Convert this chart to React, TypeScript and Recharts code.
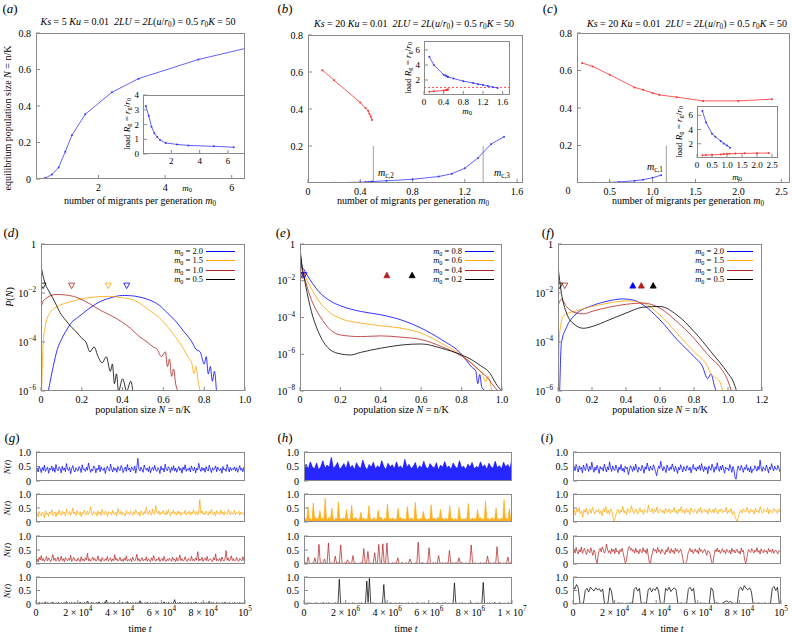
import React from "react";
import { ComposedChart, Line, Area, Scatter, XAxis, YAxis, ReferenceLine } from "recharts";

const FONT = "'Liberation Serif', 'Times New Roman', 'DejaVu Serif', serif";
const AXIS = "#8a8a8a";
const BLUE = "#0000ff";
const ORANGE = "#ffa500";
const BROWN = "#b22222";
const BLACK = "#000000";
const LBLUE = "#3a3aff";
const LRED = "#ff3030";

// ---- row 1: equilibrium N and load vs m0
const titleKs = [5, 20, 20];

const aM0 = [0.2, 0.4, 0.6, 0.8, 1.0, 1.2, 1.6, 2.4, 3.2, 5.0, 6.4];
const aN = [0.0, 0.005, 0.025, 0.063, 0.15, 0.24, 0.355, 0.475, 0.55, 0.655, 0.715];
const aLoad = [3.25, 2.6, 1.85, 1.4, 1.15, 0.95, 0.75, 0.65, 0.58, 0.52, 0.46];

const bM0High = [0.11, 0.2, 0.4, 0.44, 0.46, 0.47, 0.48, 0.49];
const bNHigh = [0.61, 0.555, 0.435, 0.405, 0.39, 0.375, 0.36, 0.34];
const bLoadHigh = [0.45, 0.5, 0.6, 0.64, 0.67, 0.7, 0.72, 0.75];
const bM0Low = [0.11, 0.2, 0.4, 0.44, 0.46, 0.48, 0.49, 0.6, 0.8, 1.0, 1.1, 1.2, 1.3, 1.4, 1.5];
const bNLow = [0.0, 0.002, 0.004, 0.005, 0.006, 0.007, 0.008, 0.012, 0.02, 0.035, 0.05, 0.08, 0.135, 0.21, 0.25];
const bLoadLow = [5.1, 4.0, 2.7, 2.6, 2.5, 2.45, 2.4, 2.2, 1.85, 1.6, 1.45, 1.35, 1.2, 1.05, 0.95];
const bCrit = [0.5, 1.34];

const cM0High = [0.18, 0.3, 0.5, 0.79, 0.89, 1.0, 1.08, 1.28, 1.59, 2.0, 2.39];
const cNHigh = [0.64, 0.622, 0.578, 0.51, 0.497, 0.48, 0.47, 0.458, 0.438, 0.438, 0.447];
const cLoadHigh = [0.4, 0.42, 0.45, 0.5, 0.55, 0.58, 0.6, 0.62, 0.65, 0.68, 0.7];
const cM0Low = [0.18, 0.3, 0.5, 0.61, 0.79, 0.89, 1.0, 1.1];
const cNLow = [0.0, 0.001, 0.003, 0.006, 0.012, 0.018, 0.028, 0.042];
const cLoadLow = [6.6, 5.0, 3.4, 3.0, 2.4, 2.05, 1.75, 1.45];
const cCrit = 1.16;

// ---- row 2: P(N), values as log10
const dLegend = ["2.0", "1.5", "1.0", "0.5"];
const eLegend = ["0.8", "0.6", "0.4", "0.2"];
const curveColors = [BLUE, ORANGE, BROWN, BLACK];

const dX = [
  [0.036, 0.05, 0.06, 0.08, 0.1, 0.126, 0.15, 0.18, 0.21, 0.25, 0.29, 0.34, 0.4, 0.44, 0.48, 0.53, 0.58, 0.62, 0.66, 0.7, 0.74, 0.76, 0.78, 0.8, 0.81, 0.82, 0.83, 0.84, 0.85, 0.86],
  [0.003, 0.011, 0.02, 0.044, 0.08, 0.126, 0.17, 0.21, 0.27, 0.33, 0.39, 0.45, 0.49, 0.53, 0.58, 0.62, 0.66, 0.7, 0.72, 0.74, 0.75, 0.76, 0.77, 0.78],
  [0, 0.01, 0.028, 0.05, 0.077, 0.12, 0.16, 0.22, 0.29, 0.35, 0.4, 0.44, 0.485, 0.52, 0.55, 0.57, 0.59, 0.61, 0.62, 0.63, 0.64, 0.65, 0.66, 0.67],
  [0, 0.01, 0.02, 0.044, 0.07, 0.093, 0.12, 0.15, 0.175, 0.2, 0.22, 0.24, 0.26, 0.28, 0.3, 0.32, 0.34, 0.35, 0.36, 0.37, 0.38, 0.4, 0.42, 0.44, 0.45],
];
const dLog = [
  [-6, -5.4, -5.0, -4.3, -3.9, -3.5, -3.2, -3.0, -2.8, -2.55, -2.35, -2.2, -2.1, -2.11, -2.16, -2.28, -2.5, -2.82, -3.15, -3.57, -4.0, -4.3, -4.4, -4.9, -4.6, -5.3, -5.0, -5.6, -5.2, -6],
  [-6, -4.0, -3.4, -2.8, -2.55, -2.4, -2.3, -2.22, -2.16, -2.14, -2.18, -2.28, -2.45, -2.7, -3.0, -3.37, -3.8, -4.3, -4.6, -4.9, -5.3, -5.0, -5.6, -6],
  [-2.6, -2.35, -2.2, -2.1, -2.06, -2.08, -2.14, -2.35, -2.7, -2.95, -3.2, -3.45, -3.8, -4.0, -4.2, -4.3, -4.6, -4.4, -5.0, -4.7, -5.4, -5.1, -5.7, -6],
  [-0.9, -1.3, -1.6, -2.0, -2.4, -2.8, -3.1, -3.4, -3.6, -3.85, -4.0, -4.4, -4.2, -4.6, -4.85, -4.6, -5.2, -4.9, -5.7, -5.3, -6, -5.5, -6, -5.6, -6],
];
const dOpenX = [0.01, 0.15, 0.33, 0.42];
const dOpenC = [BLACK, BROWN, ORANGE, BLUE];

const eX = [
  [0, 0.01, 0.02, 0.05, 0.1, 0.15, 0.2, 0.3, 0.4, 0.5, 0.6, 0.7, 0.8, 0.85, 0.87, 0.88, 0.89, 0.9, 0.92],
  [0, 0.01, 0.02, 0.05, 0.1, 0.15, 0.2, 0.3, 0.4, 0.5, 0.6, 0.7, 0.8, 0.85, 0.88, 0.9, 0.92, 0.93, 0.95],
  [0, 0.01, 0.02, 0.05, 0.1, 0.15, 0.2, 0.3, 0.4, 0.5, 0.6, 0.7, 0.8, 0.85, 0.88, 0.9, 0.93, 0.95, 0.98],
  [0, 0.01, 0.02, 0.05, 0.1, 0.15, 0.2, 0.25, 0.3, 0.4, 0.5, 0.6, 0.7, 0.8, 0.85, 0.9, 0.93, 0.95, 0.97, 1.0],
];
const eLog = [
  [-0.4, -1.2, -1.4, -1.95, -2.67, -3.1, -3.36, -3.67, -3.85, -4.13, -4.58, -5.2, -6.0, -6.7, -6.9, -7.6, -7.1, -7.8, -8],
  [-0.3, -1.3, -1.6, -2.3, -3.2, -3.75, -4.05, -4.3, -4.45, -4.58, -4.85, -5.4, -6.05, -6.5, -6.8, -7.0, -7.5, -7.2, -8],
  [-0.3, -1.4, -1.76, -2.85, -3.95, -4.67, -4.95, -5.04, -5.0, -5.07, -5.2, -5.58, -6.1, -6.5, -6.8, -7.0, -7.3, -7.6, -8],
  [-0.2, -1.2, -1.8, -3.4, -5.0, -5.76, -5.98, -6.04, -5.9, -5.67, -5.5, -5.44, -5.67, -6.04, -6.3, -6.67, -6.9, -7.2, -7.6, -8],
];
const eOpenX = [0.004, 0.012, 0.02];
const eOpenC = [BLACK, BROWN, BLUE];
const eFillX = [0.43, 0.555];
const eFillC = [BROWN, BLACK];

const fX = [
  [0.01, 0.02, 0.05, 0.1, 0.2, 0.3, 0.38, 0.45, 0.5, 0.6, 0.7, 0.8, 0.85, 0.88, 0.9, 0.92, 0.93],
  [0, 0.01, 0.03, 0.05, 0.1, 0.2, 0.3, 0.4, 0.5, 0.6, 0.7, 0.8, 0.88, 0.9, 0.95, 0.97],
  [0, 0.02, 0.05, 0.1, 0.15, 0.2, 0.3, 0.4, 0.5, 0.6, 0.7, 0.8, 0.9, 0.95, 1.0, 1.02],
  [0, 0.02, 0.05, 0.1, 0.15, 0.2, 0.3, 0.4, 0.5, 0.6, 0.7, 0.8, 0.9, 1.0, 1.03, 1.05],
];
const fLog = [
  [-6, -4.05, -3.4, -2.9, -2.52, -2.32, -2.24, -2.3, -2.48, -3.1, -3.9, -4.6, -5.0, -5.5, -5.3, -5.8, -6],
  [-6, -3.64, -2.96, -2.85, -2.75, -2.55, -2.41, -2.32, -2.41, -2.9, -3.64, -4.4, -5.0, -5.3, -5.6, -6],
  [-2.55, -2.25, -2.55, -2.8, -2.85, -2.75, -2.58, -2.46, -2.41, -2.62, -3.17, -3.85, -4.66, -5.0, -5.6, -6],
  [-0.91, -2.0, -2.82, -3.3, -3.44, -3.37, -3.1, -2.82, -2.58, -2.55, -2.9, -3.57, -4.4, -5.28, -5.6, -6],
];
const fOpenX = [0.01, 0.04];
const fOpenC = [BLACK, BROWN];
const fFillX = [0.44, 0.49, 0.56];
const fFillC = [BLUE, BROWN, BLACK];
const TRI_P = 0.02;

// ---- row 3: N(t) time series, in hundredths
const gBlue = [
  38,45,31,50,42,29,47,36,55,33,41,48,27,44,39,52,34,46,30,57,40,35,49,43,28,51,37,45,32,60,41,36,47,25,43,53,38,31,46,40,
  34,50,44,29,56,39,42,33,48,37,62,45,30,41,35,52,47,28,44,38,55,32,49,40,36,46,26,43,51,39,34,58,42,31,47,37,44,30,50,41,
  35,53,45,29,40,48,33,57,38,44,31,49,42,36,52,27,46,78,40,34,48,39,30,55,43,37,45,32,50,28,41,47,36,54,39,33,46,42,26,51,
  38,44,31,58,40,35,49,43,29,47,37,53,34,45,30,41,50,36,44,27,48,39,56,33,42,37,46,31,52,40,35,48,28,44,38,61,42,33,47,36,
  45,30,50,39,34,55,41,29,46,37,43,52,32,48,40,35,44,27,50,38,42,33,57,45,31,47,36,43,39,49,34,46,30,41,53,37,44,32,48,40,
];
const gOrange = [
  25,33,18,38,28,22,35,30,15,40,27,32,20,36,29,44,24,31,37,19,34,26,42,30,23,39,28,35,21,46,32,27,38,24,33,50,29,36,22,41,
  30,26,37,19,34,28,43,31,25,39,27,35,55,30,24,38,29,33,21,40,28,36,23,45,31,26,39,32,20,37,29,34,24,42,30,27,36,22,48,33,
  28,38,25,35,30,22,41,29,34,26,39,31,24,37,28,44,33,27,36,21,40,30,25,38,29,52,35,27,42,31,24,47,33,28,58,36,30,39,26,34,
  29,41,32,25,38,27,45,31,22,36,30,43,28,34,25,40,29,37,23,35,31,28,42,26,33,30,39,24,36,29,44,32,27,38,25,35,80,30,41,28,
  33,26,39,31,24,37,29,46,32,27,35,22,40,30,34,26,43,29,36,24,38,31,27,45,33,25,37,30,28,42,26,34,31,39,24,36,29,33,27,38,
];
const gRed = [
  10,18,7,24,14,30,12,20,9,16,27,11,22,15,8,19,34,13,21,10,17,25,9,14,28,12,19,8,23,15,11,20,13,31,9,17,24,12,16,10,
  21,14,8,26,12,18,10,22,15,38,11,19,9,16,25,13,20,10,14,29,12,17,8,23,15,11,19,13,27,10,16,22,9,18,12,33,14,20,10,15,
  24,11,17,9,21,13,28,10,16,12,19,8,25,14,11,18,35,12,20,9,15,23,11,17,13,26,10,19,14,8,22,12,30,15,10,18,13,24,9,16,
  20,11,27,14,9,17,12,21,15,10,25,13,18,8,23,11,16,32,12,19,10,14,26,13,9,20,15,11,28,12,17,10,22,14,44,11,18,13,24,9,
  16,21,12,27,10,15,19,13,8,23,14,36,11,17,12,20,9,25,15,10,18,48,13,22,11,16,29,12,19,10,14,24,13,9,20,15,11,26,12,17,
];
const gBlack = [
  2,4,1,6,3,2,5,1,3,8,2,4,3,1,5,2,7,3,1,4,2,6,3,1,4,2,3,5,1,9,3,2,4,1,6,2,3,5,2,4,
  1,3,7,2,4,1,5,3,2,11,4,1,3,6,2,4,1,3,5,2,8,3,1,4,2,6,3,15,2,4,1,5,3,2,7,4,1,3,5,2,
  4,1,6,3,2,4,1,9,3,2,5,1,4,3,2,6,1,4,3,12,2,5,1,3,4,2,7,3,1,5,2,4,3,1,6,2,4,3,1,5,
  2,3,8,1,4,2,6,3,1,4,2,5,16,3,1,4,2,7,3,2,5,1,4,3,2,6,1,3,5,2,4,1,8,3,2,4,1,5,3,2,
  6,1,4,3,2,10,1,4,3,5,2,1,6,3,2,4,1,5,3,2,7,1,4,2,3,5,1,4,2,6,3,1,4,2,5,3,1,4,2,3,
];

// (h): blue and orange are so dense they read as filled bands -> upper envelopes
const hBlueTop = [
  45,58,40,66,48,42,62,38,50,70,44,55,47,82,43,52,64,40,49,60,42,68,46,54,39,63,48,44,72,50,38,57,47,65,41,53,45,70,49,40,
  61,48,56,42,66,46,52,41,75,47,58,43,50,64,39,53,45,68,48,41,60,50,44,63,38,55,47,67,45,52,40,62,49,43,70,46,51,39,58,48,
  64,42,50,45,66,47,56,40,61,49,44,68,46,53,41,65,48,57,43,78,
];
const hOrangeTop = [
  8,14,6,55,10,12,7,68,9,16,11,13,40,8,15,10,85,7,12,17,9,50,11,6,14,10,72,8,13,9,16,7,45,11,8,14,60,9,12,17,
  10,7,13,35,9,15,8,11,10,58,14,7,10,16,9,8,42,12,18,9,7,14,10,65,8,13,9,15,7,11,9,48,10,17,8,14,10,7,55,12,
  9,16,10,8,70,13,11,7,14,9,38,15,10,8,12,9,62,7,14,11,9,17,8,46,10,13,7,15,9,11,58,9,14,8,12,10,7,52,16,9,
  11,8,14,9,66,11,7,15,10,13,8,44,10,17,9,12,7,75,11,14,8,10,16,9,13,50,7,11,9,15,8,80,10,14,9,48,11,7,
];
const hRed = [2,5,1,25,3,1,4,2,22,1,3,70,2,5,1,18,3,2,75,1,4,3,2,28,1,5,2,68,3,1,4,2,15,5,3,1,30,2,4,1,3,2,5,1,55,3,2,45,1,4,2,3,40,1,5,70,2,3,72,1,4,75,2,3,1,5,2,4,3,22,1,2,5,3,1,4,2,3,18,5,1,2,4,3,78,1,2,5,3,1,4,2,58,3,1,5,2,4,1,30,3,2,5,1,4,3,2,48,1,5,2,3,4,1,22,2,5,3,1,4,2,3,1,68,5,2,4,1,3,2,5,1,4,3,2,28,1,5,2,3,4,1,62,2,5,3,1,4,2,3,25,1,5,2];
const hBlack = [2,3,1,4,2,3,2,1,3,2,4,1,2,3,2,5,1,3,2,4,2,1,3,2,4,2,3,92,2,1,3,2,4,1,3,2,1,4,2,3,1,2,3,2,4,1,3,2,85,6,95,3,2,4,1,3,2,1,3,2,4,72,2,3,1,2,4,3,1,2,3,2,1,4,2,3,1,2,3,2,4,1,2,3,2,1,3,4,2,1,3,2,4,1,2,3,2,1,3,2,1,2,4,3,1,2,3,2,4,1,2,3,1,2,4,78,5,2,1,3,2,4,1,3,2,1,3,2,4,2,1,3,2,4,1,2,3,80,2,1,3,2,4,1,3,2,6,1,2,3,4,1,2,3,2,1,4,2,3,2];

const iBlue = [
  42,50,35,57,44,31,52,40,47,28,55,43,36,60,46,33,51,39,65,45,30,48,37,54,42,26,50,41,46,34,58,44,31,49,38,66,45,33,52,40,
  36,55,43,29,48,39,57,35,44,30,51,42,47,22,38,53,45,33,50,37,58,43,30,48,41,35,54,44,27,49,40,62,46,34,51,42,37,56,45,32,
  18,39,52,43,68,47,35,50,41,29,55,44,36,49,40,59,45,33,51,42,26,47,38,56,44,31,50,41,35,53,45,37,48,28,43,57,40,46,34,49,
  41,54,36,60,45,32,50,39,47,25,52,43,37,58,46,30,49,40,63,44,33,51,38,55,42,27,48,41,45,35,57,44,30,50,39,12,6,34,52,41,
  37,54,43,30,47,40,56,36,45,31,50,28,40,38,53,44,34,51,39,72,45,33,49,42,36,55,43,28,48,40,60,45,35,51,41,38,54,44,32,47,
];
const iOrange = [
  32,42,24,47,36,52,29,39,17,44,34,49,27,38,45,31,53,37,28,42,35,46,30,40,22,48,36,55,31,41,27,47,38,14,3,20,
  39,46,30,43,35,56,32,41,26,48,37,33,58,42,30,40,46,28,37,51,35,42,27,45,39,33,61,41,36,48,30,44,37,53,
  32,40,46,34,42,29,49,38,35,47,31,43,37,52,33,41,28,46,39,55,34,44,30,48,36,42,27,50,38,33,45,40,30,47,
  36,52,31,41,46,35,43,28,49,37,34,45,32,50,39,29,44,38,47,33,41,36,53,30,42,35,48,27,39,22,10,2,18,36,
  44,31,47,38,35,52,40,30,46,37,43,28,49,36,41,33,55,39,31,46,40,35,51,29,44,37,33,48,40,42,31,46,36,52,
];
const iRed = [
  46,53,39,59,45,36,51,43,61,38,49,56,41,34,53,47,40,58,44,31,50,42,15,3,28,49,56,43,61,51,39,46,71,53,41,48,36,55,44,52,
  38,57,43,47,35,51,44,56,40,22,4,9,36,59,63,49,56,45,51,39,57,42,48,36,53,46,40,58,44,50,37,55,30,6,2,25,41,56,46,51,
  39,59,44,49,37,53,46,41,34,51,43,60,47,38,55,42,49,36,57,45,52,40,46,53,41,20,2,1,5,12,38,47,56,43,51,37,46,54,42,49,
  36,58,45,51,40,46,53,41,31,48,45,39,18,2,6,33,51,44,57,43,50,38,46,55,42,48,37,53,45,41,49,36,56,44,50,39,47,53,40,46,
  35,57,43,49,22,3,10,38,52,45,41,55,47,39,50,44,58,42,48,36,54,45,40,51,43,47,37,55,44,49,41,53,38,46,50,42,36,48,44,41,
];
const iBlack = [68,55,72,60,3,2,4,50,58,45,62,54,48,60,52,57,46,55,3,2,4,60,48,2,3,1,4,2,3,2,1,3,2,4,2,55,62,48,58,3,2,4,2,52,60,45,57,50,63,48,2,3,1,58,50,62,46,55,60,52,3,2,4,1,3,2,55,62,48,58,2,3,1,4,2,3,2,1,3,60,52,2,4,3,2,1,5,8,12,6,10,4,2,3,2,55,62,50,68,58,52,60,48,2,3,1,4,2,3,2,4,1,3,2,58,65,50,62,3,2];

const shortTicks = [0, 2e4, 4e4, 6e4, 8e4, 1e5];
const shortLabels = ["0", "2 × 10^4", "4 × 10^4", "6 × 10^4", "8 × 10^4", "10^5"];
const longTicks = [0, 2e6, 4e6, 6e6, 8e6, 1e7];
const longLabels = ["0", "2 × 10^6", "4 × 10^6", "6 × 10^6", "8 × 10^6", "1 × 10^7"];
const stripYTicks = [0, 0.5, 1];
const stripYLabels = ["0", "0.5", "1.0"];

// ---- layout
type Box = { x0: number; y0: number; x1: number; y1: number };
const YW = 30;
const XH = 22;
const IYW = 14;
const IXH = 13;
const SYW = 28;

const A: Box = { x0: 36, y0: 33, x1: 245, y1: 179 };
const AI: Box = { x0: 143, y0: 95, x1: 245, y1: 154 };
const B: Box = { x0: 308, y0: 35, x1: 523, y1: 183 };
const BI: Box = { x0: 424, y0: 41, x1: 510, y1: 95 };
const C: Box = { x0: 577, y0: 33, x1: 790, y1: 183 };
const CI: Box = { x0: 697, y0: 106, x1: 778, y1: 158 };
const D: Box = { x0: 41, y0: 244, x1: 245, y1: 391 };
const E: Box = { x0: 300, y0: 244, x1: 502, y1: 391 };
const F: Box = { x0: 558, y0: 244, x1: 762, y1: 391 };
const stripCols = [[36, 245], [304, 512], [573, 781]];
const stripRows = [[452, 481], [494, 522], [536, 564], [577, 604]];

const SUB: React.CSSProperties = { fontSize: "0.72em", verticalAlign: "-0.3em", lineHeight: 0 };

const pts = (xs: number[], ys: number[]) => xs.map((x, i) => ({ x, y: ys[i] }));
const logPts = (xs: number[], ls: number[]) => xs.map((x, i) => ({ x, y: Math.pow(10, ls[i]) }));
const marks = (xs: number[], cs: string[]) => xs.map((x, i) => ({ x, y: TRI_P, c: cs[i] }));
const timePts = (vals: number[], tmax: number) =>
  vals.map((v, i) => ({ x: (i / (vals.length - 1)) * tmax, y: v / 100 }));

const fix1 = (v: number) => (v === 0 ? "0" : v.toFixed(1));
const plain = (v: number) => String(v);
const pow10 = (v: number) => (v >= 1 ? "1" : "10^−" + Math.round(-Math.log10(v)));

function SupTick(props: any) {
  const { x, y, payload, side, fmt, size } = props;
  const label: string = fmt(payload.value) ?? "";
  const [base, exp] = label.split("^");
  return (
    <text
      x={x}
      y={y}
      dy={side === "left" ? "0.35em" : "0.75em"}
      textAnchor={side === "left" ? "end" : "middle"}
      fontSize={size}
      fontFamily={FONT}
      fill="#000"
    >
      {base}
      {exp !== undefined && (
        <tspan dy={-size * 0.45} fontSize={size * 0.72}>
          {exp}
        </tspan>
      )}
    </text>
  );
}

const xBase = {
  type: "number" as const,
  dataKey: "x",
  interval: 0 as const,
  allowDataOverflow: true,
  axisLine: false,
  tickSize: -4,
  tickMargin: 8,
  tickLine: { stroke: AXIS },
};
const yBase = {
  type: "number" as const,
  dataKey: "y",
  interval: 0 as const,
  allowDataOverflow: true,
  axisLine: false,
  tickSize: -4,
  tickMargin: 9,
  tickLine: { stroke: AXIS },
};

function Plot({ box, yw, xh, mt = 6, mr = 14, children }: any) {
  const w = box.x1 - box.x0;
  const h = box.y1 - box.y0;
  return (
    <div style={{ position: "absolute", left: box.x0 - yw, top: box.y0 - mt, width: yw + w + mr, height: mt + h + xh }}>
      <ComposedChart width={yw + w + mr} height={mt + h + xh} margin={{ top: mt, right: mr, bottom: 0, left: 0 }}>
        {children}
      </ComposedChart>
      <div
        style={{
          position: "absolute",
          left: yw,
          top: mt,
          width: w,
          height: h,
          border: `1px solid ${AXIS}`,
          boxSizing: "border-box",
          pointerEvents: "none",
        }}
      />
    </div>
  );
}

function Txt({ x, y, size = 10, rot = 0, children }: any) {
  return (
    <div
      style={{
        position: "absolute",
        left: x,
        top: y,
        transform: `translate(-50%, -50%) rotate(${rot}deg)`,
        whiteSpace: "nowrap",
        fontSize: size,
        lineHeight: 1,
      }}
    >
      {children}
    </div>
  );
}

const M0 = () => (
  <>
    <i>m</i>
    <sub style={SUB}>0</sub>
  </>
);
const LoadLabel = () => (
  <>
    load <i>R</i>
    <sub style={SUB}>g</sub> = <i>r</i>
    <sub style={SUB}>g</sub>/<i>r</i>
    <sub style={SUB}>0</sub>
  </>
);
const Title = ({ x, y, ks }: any) => (
  <Txt x={x} y={y} size={10}>
    <i>Ks</i> = {ks} <i>Ku</i> = 0.01&nbsp;&nbsp;<i>2LU</i> = <i>2L</i>(<i>u</i>/<i>r</i>
    <sub style={SUB}>0</sub>) = 0.5 <i>r</i>
    <sub style={SUB}>0</sub>
    <i>K</i> = 50
  </Txt>
);
const PanelLabel = ({ x, y, c }: any) => (
  <Txt x={x} y={y} size={13}>
    (<i>{c}</i>)
  </Txt>
);
const Crit = ({ x, y, s }: any) => (
  <Txt x={x} y={y} size={10}>
    <i>m</i>
    <sub style={SUB}>c,{s}</sub>
  </Txt>
);

const LEG_STEP = 9.4;
function Legend({ x, y, labels, colors, len }: any) {
  return (
    <>
      {labels.map((lab: string, i: number) => (
        <React.Fragment key={i}>
          <div
            style={{
              position: "absolute",
              right: 792 - x,
              top: y + i * LEG_STEP - 4,
              fontSize: 8.5,
              lineHeight: "8px",
              whiteSpace: "nowrap",
            }}
          >
            <M0 /> = {lab}
          </div>
          <div
            style={{
              position: "absolute",
              left: x + 3,
              top: y + i * LEG_STEP,
              width: len,
              height: 0,
              borderTop: `1px solid ${colors[i]}`,
            }}
          />
        </React.Fragment>
      ))}
    </>
  );
}

const triShape = (filled: boolean) => (p: any) => {
  const { cx, cy, payload } = p;
  const c = payload.c;
  const d = filled
    ? `M${cx - 3},${cy + 2.5}L${cx + 3},${cy + 2.5}L${cx},${cy - 3}Z`
    : `M${cx - 3},${cy - 2.5}L${cx + 3},${cy - 2.5}L${cx},${cy + 3}Z`;
  return <path d={d} fill={filled ? c : "none"} stroke={c} strokeWidth={0.8} />;
};

function MarkedLine({ data, color }: any) {
  return (
    <Line
      data={data}
      dataKey="y"
      stroke={color}
      strokeWidth={0.8}
      dot={{ r: 1, fill: color, stroke: "none" }}
      activeDot={false}
      isAnimationActive={false}
    />
  );
}

function DistPanel({ box, xs, logs, xMax, xTicks, yMin, yTicks, open, filled }: any) {
  return (
    <Plot box={box} yw={YW} xh={XH}>
      <XAxis {...xBase} domain={[0, xMax]} ticks={xTicks} height={XH} tick={<SupTick side="bottom" size={10} fmt={fix1} />} />
      <YAxis {...yBase} scale="log" domain={[yMin, 1]} ticks={yTicks} width={YW} tick={<SupTick side="left" size={10} fmt={pow10} />} />
      {xs.map((x: number[], k: number) => (
        <Line
          key={k}
          data={logPts(x, logs[k])}
          dataKey="y"
          type="monotone"
          stroke={curveColors[k]}
          strokeWidth={0.8}
          dot={false}
          activeDot={false}
          isAnimationActive={false}
        />
      ))}
      {open && <Scatter data={open} shape={triShape(false)} isAnimationActive={false} />}
      {filled && <Scatter data={filled} shape={triShape(true)} isAnimationActive={false} />}
    </Plot>
  );
}

function Strip({ col, row, vals, tmax, color, ticks, labels, band }: any) {
  const box = { x0: stripCols[col][0], x1: stripCols[col][1], y0: stripRows[row][0], y1: stripRows[row][1] };
  const bottom = row === 3;
  const xh = bottom ? XH : 6;
  const data = timePts(vals, tmax);
  return (
    <Plot box={box} yw={SYW} xh={xh} mt={6} mr={18}>
      <XAxis
        {...xBase}
        domain={[0, tmax]}
        ticks={ticks}
        height={xh}
        tick={bottom ? <SupTick side="bottom" size={10} fmt={(v: number) => labels[ticks.indexOf(v)]} /> : false}
      />
      <YAxis
        {...yBase}
        domain={[0, 1]}
        ticks={stripYTicks}
        width={SYW}
        tick={<SupTick side="left" size={10} fmt={(v: number) => stripYLabels[stripYTicks.indexOf(v)]} />}
      />
      {band ? (
        <Area
          data={data}
          dataKey="y"
          type="linear"
          stroke={color}
          strokeWidth={0.6}
          fill={color}
          fillOpacity={0.85}
          baseValue={0}
          dot={false}
          activeDot={false}
          isAnimationActive={false}
        />
      ) : (
        <Line
          data={data}
          dataKey="y"
          stroke={color}
          strokeWidth={0.85}
          strokeOpacity={0.85}
          dot={false}
          activeDot={false}
          isAnimationActive={false}
        />
      )}
    </Plot>
  );
}

export default function App() {
  const stripSets = [
    { vals: [gBlue, gOrange, gRed, gBlack], band: [false, false, false, false], tmax: 1e5, ticks: shortTicks, labels: shortLabels },
    { vals: [hBlueTop, hOrangeTop, hRed, hBlack], band: [true, true, false, false], tmax: 1e7, ticks: longTicks, labels: longLabels },
    { vals: [iBlue, iOrange, iRed, iBlack], band: [false, false, false, false], tmax: 1e5, ticks: shortTicks, labels: shortLabels },
  ];
  return (
    <div
      style={{
        position: "absolute",
        left: 0,
        top: 0,
        width: 792,
        height: 636,
        overflow: "hidden",
        background: "#fff",
        fontFamily: FONT,
        color: "#000",
      }}
    >
      {/* (a) */}
      <Plot box={A} yw={YW} xh={XH}>
        <XAxis {...xBase} domain={[0.12, 6.4]} ticks={[2, 4, 6]} height={XH} tick={<SupTick side="bottom" size={10} fmt={plain} />} />
        <YAxis {...yBase} domain={[0, 0.8]} ticks={[0, 0.2, 0.4, 0.6, 0.8]} width={YW} tick={<SupTick side="left" size={10} fmt={fix1} />} />
        <MarkedLine data={pts(aM0, aN)} color={LBLUE} />
      </Plot>
      <Plot box={AI} yw={IYW} xh={IXH} mt={4} mr={6}>
        <XAxis {...xBase} domain={[0, 7.2]} ticks={[2, 4, 6]} height={IXH} tickMargin={7} tick={<SupTick side="bottom" size={9} fmt={plain} />} />
        <YAxis {...yBase} domain={[0, 4]} ticks={[0, 1, 2, 3, 4]} width={IYW} tickMargin={8} tick={<SupTick side="left" size={9} fmt={plain} />} />
        <MarkedLine data={pts(aM0, aLoad)} color={LBLUE} />
      </Plot>

      {/* (b) */}
      <Plot box={B} yw={YW} xh={XH}>
        <XAxis {...xBase} domain={[0, 1.645]} ticks={[0, 0.4, 0.8, 1.2, 1.6]} height={XH} tick={<SupTick side="bottom" size={10} fmt={plain} />} />
        <YAxis {...yBase} domain={[0, 0.8]} ticks={[0.2, 0.4, 0.6, 0.8]} width={YW} tick={<SupTick side="left" size={10} fmt={fix1} />} />
        {bCrit.map((m) => (
          <ReferenceLine key={m} segment={[{ x: m, y: 0 }, { x: m, y: 0.2 }]} stroke={AXIS} strokeWidth={0.8} />
        ))}
        <MarkedLine data={pts(bM0High, bNHigh)} color={LRED} />
        <MarkedLine data={pts(bM0Low, bNLow)} color={LBLUE} />
      </Plot>
      <Plot box={BI} yw={IYW} xh={IXH} mt={4} mr={6}>
        <XAxis {...xBase} domain={[0, 1.75]} ticks={[0, 0.4, 0.8, 1.2, 1.6]} height={IXH} tickMargin={7} tick={<SupTick side="bottom" size={9} fmt={plain} />} />
        <YAxis {...yBase} domain={[0, 7.2]} ticks={[2, 4, 6]} width={IYW} tickMargin={8} tick={<SupTick side="left" size={9} fmt={plain} />} />
        <ReferenceLine y={1} stroke={LRED} strokeWidth={0.8} strokeDasharray="2 2" />
        <MarkedLine data={pts(bM0Low, bLoadLow)} color={LBLUE} />
        <MarkedLine data={pts(bM0High, bLoadHigh)} color={LRED} />
      </Plot>

      {/* (c) */}
      <Plot box={C} yw={YW} xh={XH}>
        <XAxis {...xBase} domain={[0.12, 2.6]} ticks={[0.5, 1, 1.5, 2, 2.5]} height={XH} tick={<SupTick side="bottom" size={10} fmt={fix1} />} />
        <YAxis {...yBase} domain={[0, 0.8]} ticks={[0.2, 0.4, 0.6, 0.8]} width={YW} tick={<SupTick side="left" size={10} fmt={fix1} />} />
        <ReferenceLine segment={[{ x: cCrit, y: 0 }, { x: cCrit, y: 0.2 }]} stroke={AXIS} strokeWidth={0.8} />
        <MarkedLine data={pts(cM0High, cNHigh)} color={LRED} />
        <MarkedLine data={pts(cM0Low, cNLow)} color={LBLUE} />
      </Plot>
      <Plot box={CI} yw={IYW} xh={IXH} mt={4} mr={6}>
        <XAxis {...xBase} domain={[0, 2.7]} ticks={[0, 0.5, 1, 1.5, 2, 2.5]} height={IXH} tickMargin={7} tick={<SupTick side="bottom" size={9} fmt={fix1} />} />
        <YAxis {...yBase} domain={[0, 7.3]} ticks={[2, 4, 6]} width={IYW} tickMargin={8} tick={<SupTick side="left" size={9} fmt={plain} />} />
        <MarkedLine data={pts(cM0Low, cLoadLow)} color={LBLUE} />
        <MarkedLine data={pts(cM0High, cLoadHigh)} color={LRED} />
      </Plot>

      {/* (d) (e) (f) */}
      <DistPanel box={D} xs={dX} logs={dLog} xMax={1} xTicks={[0, 0.2, 0.4, 0.6, 0.8, 1]} yMin={1e-6} yTicks={[1e-6, 1e-4, 1e-2, 1]} open={marks(dOpenX, dOpenC)} />
      <DistPanel box={E} xs={eX} logs={eLog} xMax={1} xTicks={[0, 0.2, 0.4, 0.6, 0.8, 1]} yMin={1e-8} yTicks={[1e-8, 1e-6, 1e-4, 1e-2, 1]} open={marks(eOpenX, eOpenC)} filled={marks(eFillX, eFillC)} />
      <DistPanel box={F} xs={fX} logs={fLog} xMax={1.2} xTicks={[0, 0.2, 0.4, 0.6, 0.8, 1, 1.2]} yMin={1e-6} yTicks={[1e-6, 1e-4, 1e-2, 1]} open={marks(fOpenX, fOpenC)} filled={marks(fFillX, fFillC)} />

      {/* (g) (h) (i) */}
      {stripSets.map((s, col) =>
        s.vals.map((v, row) => (
          <Strip key={`${col}-${row}`} col={col} row={row} vals={v} band={s.band[row]} tmax={s.tmax} color={curveColors[row]} ticks={s.ticks} labels={s.labels} />
        ))
      )}

      {/* texts */}
      <PanelLabel x={10} y={8} c="a" />
      <PanelLabel x={285} y={8} c="b" />
      <PanelLabel x={550} y={8} c="c" />
      <PanelLabel x={11} y={232} c="d" />
      <PanelLabel x={283} y={232} c="e" />
      <PanelLabel x={548} y={232} c="f" />
      <PanelLabel x={12} y={437} c="g" />
      <PanelLabel x={285} y={437} c="h" />
      <PanelLabel x={547} y={437} c="i" />

      <Title x={138} y={22} ks={titleKs[0]} />
      <Title x={414} y={24} ks={titleKs[1]} />
      <Title x={687} y={24} ks={titleKs[2]} />

      <Txt x={8} y={118} rot={-90} size={10}>
        equilibrium population size <i>N</i> = n/K
      </Txt>
      <Txt x={140} y={201}>
        number of migrants per generation <M0 />
      </Txt>
      <Txt x={413} y={201}>
        number of migrants per generation <M0 />
      </Txt>
      <Txt x={688} y={201}>
        number of migrants per generation <M0 />
      </Txt>
      <Txt x={568} y={191}>0</Txt>

      <Txt x={127} y={124} rot={-90} size={9}>
        <LoadLabel />
      </Txt>
      <Txt x={187} y={188} size={9}>
        <M0 />
      </Txt>
      <Txt x={408} y={68} rot={-90} size={9}>
        <LoadLabel />
      </Txt>
      <Txt x={467} y={111} size={9}>
        <M0 />
      </Txt>
      <Txt x={679} y={132} rot={-90} size={9}>
        <LoadLabel />
      </Txt>
      <Txt x={737} y={177} size={9}>
        <M0 />
      </Txt>

      <Crit x={386} y={173} s="2" />
      <Crit x={502} y={173} s="3" />
      <Crit x={655} y={167} s="1" />

      <Txt x={10} y={297} rot={-90}>
        <i>P</i>(<i>N</i>)
      </Txt>
      <Txt x={143} y={410}>
        population size <i>N</i> = n/K
      </Txt>
      <Txt x={401} y={410}>
        population size <i>N</i> = n/K
      </Txt>
      <Txt x={660} y={410}>
        population size <i>N</i> = n/K
      </Txt>
      <Legend x={203} y={251} labels={dLegend} colors={curveColors} len={29} />
      <Legend x={462} y={251} labels={eLegend} colors={curveColors} len={29} />
      <Legend x={724} y={251} labels={dLegend} colors={curveColors} len={26} />

      {stripRows.map((r, k) => (
        <Txt key={k} x={7} y={(r[0] + r[1]) / 2} rot={-90} size={9}>
          <i>N</i>(<i>t</i>)
        </Txt>
      ))}
      <Txt x={140} y={629}>
        time <i>t</i>
      </Txt>
      <Txt x={406} y={629}>
        time <i>t</i>
      </Txt>
      <Txt x={672} y={629}>
        time <i>t</i>
      </Txt>
    </div>
  );
}
